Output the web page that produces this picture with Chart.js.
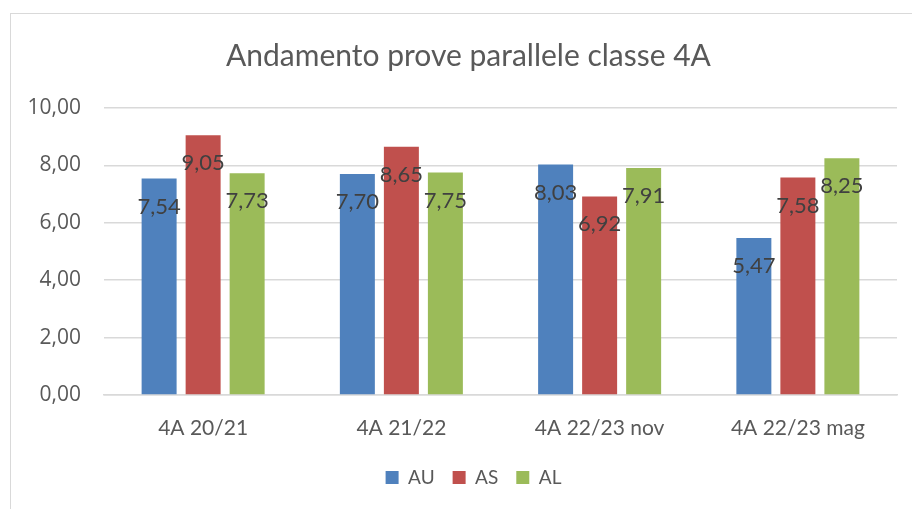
<!DOCTYPE html>
<html>
<head>
<meta charset="utf-8">
<script src="https://cdn.jsdelivr.net/npm/chart.js@4"></script>
<style>
    html, body { margin: 0; padding: 0; background: #fff; overflow: hidden; }
    #wrap { position: relative; width: 912px; height: 509px; }
    #frame {
        position: absolute; left: 10px; top: 13px; width: 1000px; height: 600px;
        border: 1.5px solid #d9d9d9; box-sizing: border-box;
    }
    canvas { position: absolute; left: 0; top: 0; }
</style>
</head>
<body>
<div id="wrap">
    <div id="frame"></div>
    <canvas id="chart" width="912" height="509"></canvas>
</div>
<script>
// ===========================
// Data
// ===========================
const categories = ['4A 20/21', '4A 21/22', '4A 22/23 nov', '4A 22/23 mag'];
const seriesNames = ['AU', 'AS', 'AL'];
const valuesAU = [7.54, 7.70, 8.03, 5.47];
const valuesAS = [9.05, 8.65, 6.92, 7.58];
const valuesAL = [7.73, 7.75, 7.91, 8.25];
const yTicks = [0, 2, 4, 6, 8, 10];

const colors = ['#4F81BD', '#C0504D', '#9BBB59'];
const fontFamily = 'Lato, "Open Sans", sans-serif';

function fmt(v) {
    return v.toFixed(2).replace('.', ',');
}

// Value labels inside the top of each bar
const valueLabels = {
    id: 'valueLabels',
    afterDatasetsDraw(chart) {
        const ctx = chart.ctx;
        ctx.save();
        ctx.font = '22px ' + fontFamily;
        ctx.fillStyle = '#404040';
        ctx.textAlign = 'center';
        ctx.textBaseline = 'middle';
        chart.data.datasets.forEach((ds, i) => {
            chart.getDatasetMeta(i).data.forEach((bar, j) => {
                ctx.fillText(fmt(ds.data[j]), bar.x, bar.y + 28);
            });
        });
        ctx.restore();
    }
};

// Title and legend sit a bit to the right of the canvas centre
const shiftBlocks = {
    id: 'shiftBlocks',
    afterLayout(chart) {
        chart.legend.left += 25;
        chart.legend.right += 25;
        chart.titleBlock.left += 20;
        chart.titleBlock.right += 20;
    }
};

new Chart(document.getElementById('chart'), {
    type: 'bar',
    data: {
        labels: categories,
        datasets: [valuesAU, valuesAS, valuesAL].map((vals, i) => ({
            label: seriesNames[i],
            data: vals,
            backgroundColor: colors[i],
            borderColor: colors[i],
            borderWidth: 0,
            categoryPercentage: 0.666,
            barPercentage: 0.795
        }))
    },
    options: {
        responsive: false,
        animation: false,
        layout: {
            padding: { left: 0, right: 15, top: 0, bottom: 12 }
        },
        plugins: {
            title: {
                display: true,
                text: 'Andamento prove parallele classe 4A',
                color: '#595959',
                font: { family: fontFamily, size: 30, weight: 'normal' },
                padding: { top: 38, bottom: 34 }
            },
            legend: {
                position: 'bottom',
                labels: {
                    color: '#595959',
                    font: { family: fontFamily, size: 19 },
                    boxWidth: 13,
                    boxHeight: 13,
                    padding: 18
                }
            },
            tooltip: { enabled: false }
        },
        scales: {
            x: {
                grid: { display: false },
                border: { color: '#d9d9d9', width: 1.5 },
                afterFit(scale) {
                    scale.height = 55;
                },
                ticks: {
                    color: '#595959',
                    font: { family: fontFamily, size: 21 },
                    padding: 13
                }
            },
            y: {
                min: 0,
                max: 10,
                afterBuildTicks(scale) {
                    scale.ticks = yTicks.map(v => ({ value: v }));
                },
                afterFit(scale) {
                    scale.width = 104;
                },
                grid: { color: '#d9d9d9', lineWidth: 1.5, drawTicks: false },
                border: { display: false },
                ticks: {
                    color: '#595959',
                    font: { family: '"Open Sans", sans-serif', size: 21 },
                    padding: 23,
                    callback: v => fmt(v)
                }
            }
        }
    },
    plugins: [valueLabels, shiftBlocks]
});
</script>
</body>
</html>
